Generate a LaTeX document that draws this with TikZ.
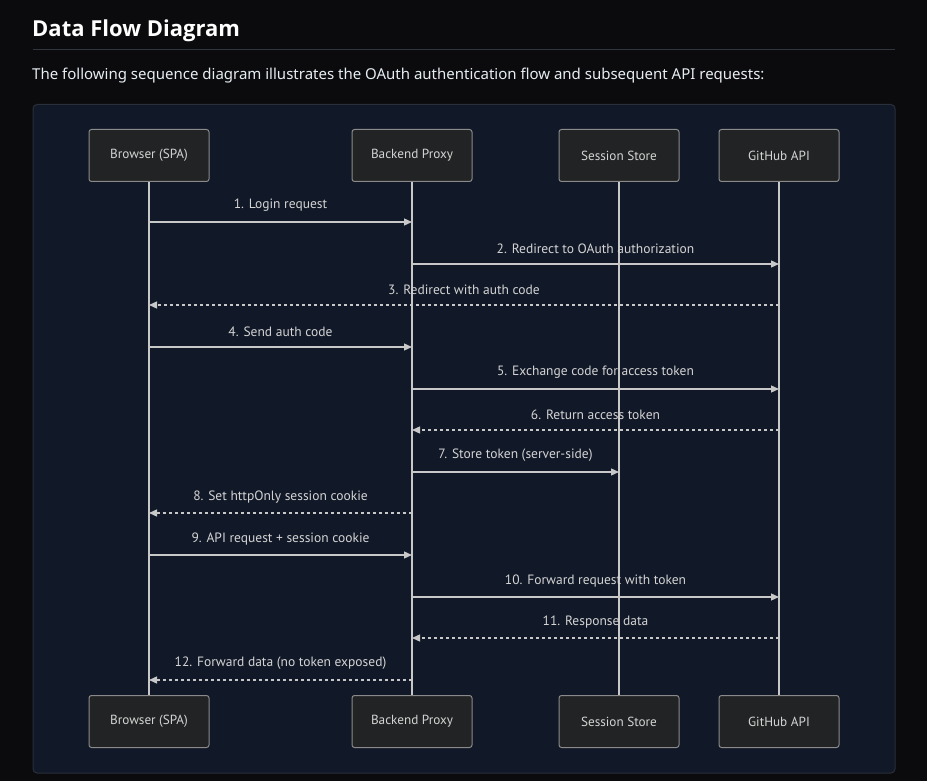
\documentclass[tikz,border=0pt]{standalone}
\usepackage{fontspec}
\setmainfont{Noto Sans}
\newfontfamily\titlefont{Open Sans}
\newfontfamily\lblfont{PT Sans}
\usetikzlibrary{arrows.meta}
\definecolor{pagebg}{HTML}{0B0B0D}
\definecolor{panelbg}{HTML}{111827}
\definecolor{panelbd}{HTML}{2A2F3A}
\definecolor{rulec}{HTML}{30363D}
\definecolor{boxbg}{HTML}{222324}
\definecolor{boxbd}{HTML}{8A8A8A}
\definecolor{linec}{HTML}{C8C8C8}
\definecolor{txtc}{HTML}{E6EDF3}
\definecolor{lblc}{HTML}{D4D4D4}
\tikzset{
  actor/.style={draw=boxbd, fill=boxbg, rounded corners=2.5pt, line width=1pt,
    minimum width=120pt, minimum height=52pt, inner sep=0pt,
    font=\lblfont\fontsize{13.2}{15}\selectfont, text=lblc},
  life/.style={draw=linec, line width=1.3pt},
  msg/.style={draw=linec, line width=1.3pt, -{Triangle[length=8pt,width=7pt]}},
  reply/.style={msg, dash pattern=on 3pt off 3pt},
  lbl/.style={font=\lblfont\fontsize{13.5}{15}\selectfont, text=lblc, inner sep=0pt, above=9.5pt}
}
\begin{document}
\begin{tikzpicture}[x=1pt,y=-1pt]
\fill[pagebg] (0,0) rectangle (927,781);
\useasboundingbox (0,0) rectangle (927,781);
\node[anchor=base west, inner sep=0pt, text=white, font=\titlefont\bfseries\fontsize{22}{26}\selectfont] (title) at (32,37) {Data Flow Diagram};
\draw[rulec, line width=1pt] (33,49.5) -- (895,49.5);
\node[anchor=base west, inner sep=0pt, text=txtc, font=\fontsize{15}{18}\selectfont] (intro) at (32,80) {The following sequence diagram illustrates the OAuth authentication flow and subsequent API requests:};
\draw[panelbd, fill=panelbg, rounded corners=4pt, line width=1pt] (33,104.5) rectangle (895,773);
% actors
\node[actor] (b1) at (149,155.5) {Browser (SPA)};
\node[actor] (p1) at (412,155.5) {Backend Proxy};
\node[actor] (s1) at (619,155.5) {Session Store};
\node[actor] (g1) at (779,155.5) {GitHub API};
\node[actor] (b2) at (149,721.5) {Browser (SPA)};
\node[actor] (p2) at (412,721.5) {Backend Proxy};
\node[actor] (s2) at (619,721.5) {Session Store};
\node[actor] (g2) at (779,721.5) {GitHub API};
\draw[life] (b1) -- (b2);
\draw[life] (p1) -- (p2);
\draw[life] (s1) -- (s2);
\draw[life] (g1) -- (g2);
% message end points
\foreach \n/\y in {1/222,2/264,3/305,4/347,5/389,6/430,7/472,8/513,9/555,10/597,11/638,12/680}{
  \coordinate (B\n) at (149,\y);
  \coordinate (P\n) at (412,\y);
  \coordinate (S\n) at (619,\y);
  \coordinate (G\n) at (779,\y);
}
\draw[msg] (B1) -- node[lbl] {1. Login request} (P1);
\draw[msg] (P2) -- node[lbl] {2. Redirect to OAuth authorization} (G2);
\draw[reply] (G3) -- node[lbl] {3. Redirect with auth code} (B3);
\draw[msg] (B4) -- node[lbl] {4. Send auth code} (P4);
\draw[msg] (P5) -- node[lbl] {5. Exchange code for access token} (G5);
\draw[reply] (G6) -- node[lbl] {6. Return access token} (P6);
\draw[msg] (P7) -- node[lbl] {7. Store token (server-side)} (S7);
\draw[reply] (P8) -- node[lbl] {8. Set httpOnly session cookie} (B8);
\draw[msg] (B9) -- node[lbl] {9. API request + session cookie} (P9);
\draw[msg] (P10) -- node[lbl] {10. Forward request with token} (G10);
\draw[reply] (G11) -- node[lbl] {11. Response data} (P11);
\draw[reply] (P12) -- node[lbl] {12. Forward data (no token exposed)} (B12);
\end{tikzpicture}
\end{document}
